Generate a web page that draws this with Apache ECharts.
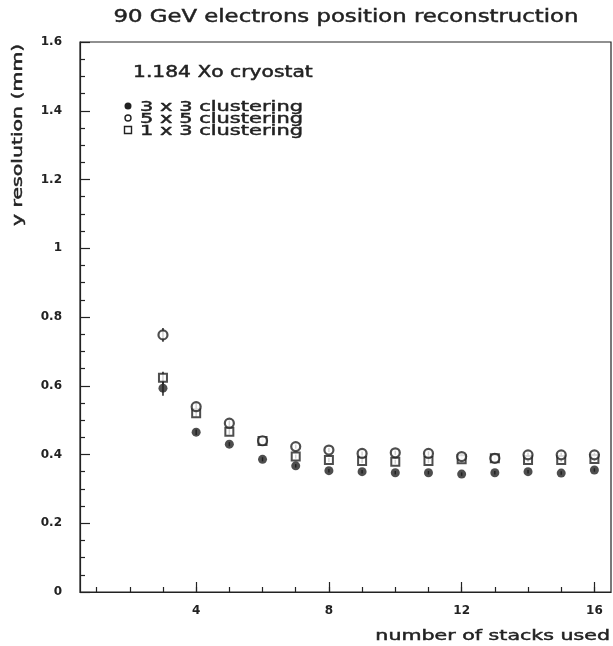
<!DOCTYPE html>
<html>
<head>
<meta charset="utf-8">
<script src="https://cdn.jsdelivr.net/npm/echarts@6/dist/echarts.min.js"></script>
<style>
html,body{margin:0;padding:0;background:#fff;}
#c{width:613px;height:646px;}
</style>
</head>
<body>
<div id="c"></div>
<script>
// ---- data ----
var stacks = [3, 4, 5, 6, 7, 8, 9, 10, 11, 12, 13, 14, 15, 16];
var res3x3 = [0.593, 0.465, 0.430, 0.386, 0.367, 0.353, 0.350, 0.347, 0.347, 0.343, 0.347, 0.350, 0.346, 0.355];
var res5x5 = [0.748, 0.539, 0.491, 0.440, 0.423, 0.413, 0.403, 0.405, 0.403, 0.394, 0.389, 0.399, 0.399, 0.399];
var res1x3 = [0.623, 0.520, 0.466, 0.439, 0.394, 0.384, 0.381, 0.379, 0.381, 0.386, 0.389, 0.384, 0.384, 0.387];
var err3x3 = [0.022, 0.008, 0.006, 0.006, 0.005, 0.005, 0.005, 0.005, 0.005, 0.005, 0.005, 0.005, 0.005, 0.005];
var err5x5 = [0.020, 0.010, 0.008, 0.007, 0.006, 0.006, 0.006, 0.006, 0.006, 0.006, 0.006, 0.006, 0.006, 0.006];
var err1x3 = [0.018, 0.010, 0.008, 0.007, 0.006, 0.006, 0.006, 0.006, 0.006, 0.006, 0.006, 0.006, 0.006, 0.006];
var xMajorTicks = [4, 8, 12, 16];
var xMinorTicks = [1, 2, 3, 4, 5, 6, 7, 8, 9, 10, 11, 12, 13, 14, 15, 16];
var titleText = '90 GeV electrons position reconstruction';
var xName = 'number of stacks used';
var yName = 'y resolution (mm)';
var legendHeader = '1.184 Xo cryostat';
var legendNames = ['3 x 3 clustering', '5 x 5 clustering', '1 x 3 clustering'];

var INK = '#222';
var TXT = '#222';
var FONT = 'DejaVu Sans';

function pairs(ys) { return stacks.map(function (x, i) { return [x, ys[i]]; }); }
function errTriples(ys, es) { return stacks.map(function (x, i) { return [x, ys[i], es[i]]; }); }

function errSeries(ys, es) {
  return {
    type: 'custom',
    xAxisIndex: 0, yAxisIndex: 0,
    data: errTriples(ys, es),
    silent: true,
    z: 1,
    renderItem: function (params, api) {
      var x = api.value(0), y = api.value(1), e = api.value(2);
      var p1 = api.coord([x, y + e]);
      var p2 = api.coord([x, y - e]);
      return {
        type: 'line',
        shape: { x1: p1[0], y1: p1[1], x2: p2[0], y2: p2[1] },
        style: { stroke: INK, lineWidth: 1.5 }
      };
    }
  };
}

var chart = echarts.init(document.getElementById('c'), null, { renderer: 'canvas' });

var gridBox = { left: 80, right: 2, top: 42, bottom: 54 };

function wideText(x, y, text, size, sx, extra) {
  var o = {
    type: 'text', x: x, y: y, scaleX: sx, scaleY: 1,
    style: Object.assign({ text: text, fill: TXT, stroke: TXT, lineWidth: 0.45, font: 'normal ' + size + 'px "DejaVu Sans"', textVerticalAlign: 'middle' }, extra && extra.style || {})
  };
  if (extra && extra.rotation) o.rotation = extra.rotation;
  return o;
}

var option = {
  backgroundColor: '#fff',
  animation: false,
  textStyle: { fontFamily: FONT },
  grid: [
    Object.assign({ show: true, borderColor: INK, borderWidth: 1.2, backgroundColor: 'transparent', containLabel: false }, gridBox),
    Object.assign({ show: false, containLabel: false }, gridBox)
  ],
  xAxis: [
    {
      type: 'value', gridIndex: 0, min: 0.5, max: 16.5,
      axisLine: { show: true, lineStyle: { color: INK, width: 1.2 } },
      axisTick: { show: true, inside: true, length: 10, customValues: xMajorTicks, lineStyle: { color: INK, width: 1.2 } },
      axisLabel: { show: true, customValues: xMajorTicks, margin: 13, color: TXT, fontSize: 12, fontWeight: 'bold', fontFamily: FONT },
      splitLine: { show: false }
    },
    {
      type: 'value', gridIndex: 1, min: 0.5, max: 16.5,
      axisLine: { show: false },
      axisTick: { show: true, inside: true, length: 5, customValues: xMinorTicks, lineStyle: { color: INK, width: 1.2 } },
      axisLabel: { show: false },
      splitLine: { show: false }
    }
  ],
  yAxis: [
    {
      type: 'value', gridIndex: 0, min: 0, max: 1.6, interval: 0.2,
      axisLine: { show: true, lineStyle: { color: INK, width: 1.2 } },
      axisTick: { show: true, inside: true, length: 10, lineStyle: { color: INK, width: 1.2 } },
      minorTick: { show: true, splitNumber: 4, length: 5, lineStyle: { color: INK, width: 1.2 } },
      axisLabel: { show: true, margin: 18, color: TXT, fontSize: 12, fontWeight: 'bold', fontFamily: FONT },
      splitLine: { show: false }
    },
    {
      type: 'value', gridIndex: 1, min: 0, max: 1.6,
      show: false
    }
  ],
  series: [
    errSeries(res3x3, err3x3),
    errSeries(res5x5, err5x5),
    errSeries(res1x3, err1x3),
    {
      name: legendNames[2], type: 'scatter', xAxisIndex: 0, yAxisIndex: 0,
      data: pairs(res1x3), symbol: 'rect', symbolSize: 8,
      itemStyle: { color: '#fff', borderColor: INK, borderWidth: 2 }, z: 3
    },
    {
      name: legendNames[1], type: 'scatter', xAxisIndex: 0, yAxisIndex: 0,
      data: pairs(res5x5), symbol: 'circle', symbolSize: 9,
      itemStyle: { color: '#fff', borderColor: INK, borderWidth: 2.2 }, z: 4
    },
    {
      name: legendNames[0], type: 'scatter', xAxisIndex: 0, yAxisIndex: 0,
      data: pairs(res3x3), symbol: 'circle', symbolSize: 9,
      itemStyle: { color: INK }, z: 5
    }
  ],
  graphic: [
    wideText(346, 18, titleText, 17, 1.34, { style: { textAlign: 'center' } }),
    wideText(18, 226, yName, 14, 1.46, { rotation: Math.PI / 2 }),
    wideText(610, 636, xName, 14, 1.47, { style: { textAlign: 'right' } }),
    wideText(133, 73, legendHeader, 15, 1.35),
    { type: 'circle', shape: { cx: 128, cy: 106, r: 3.5 }, style: { fill: INK } },
    wideText(140, 107, legendNames[0], 14, 1.5),
    { type: 'circle', shape: { cx: 128, cy: 118, r: 3 }, style: { fill: '#fff', stroke: INK, lineWidth: 1.4 } },
    wideText(140, 119, legendNames[1], 14, 1.5),
    { type: 'rect', shape: { x: 124.5, y: 126.5, width: 7, height: 7 }, style: { fill: '#fff', stroke: INK, lineWidth: 1.4 } },
    wideText(140, 131, legendNames[2], 14, 1.5)
  ]
};

chart.setOption(option);
</script>
</body>
</html>
